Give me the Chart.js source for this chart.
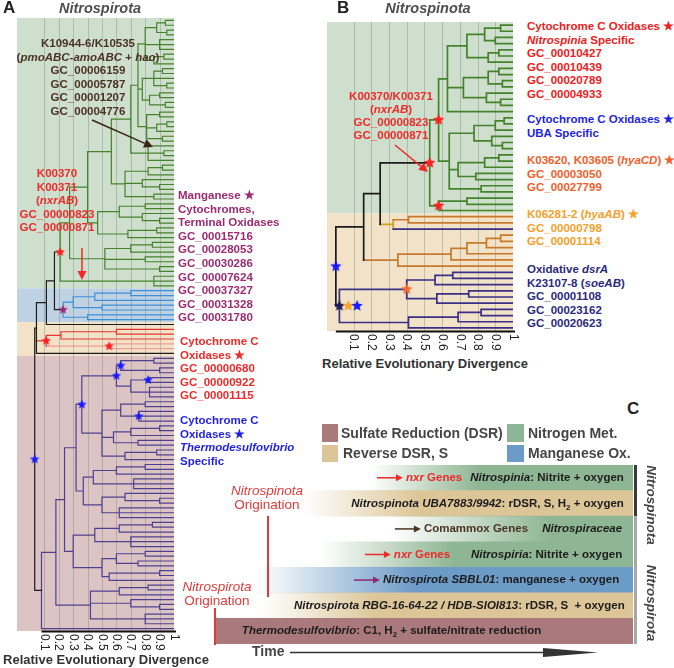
<!DOCTYPE html>
<html>
<head>
<meta charset="utf-8">
<script src="https://cdn.jsdelivr.net/npm/chart.js@4.4.1/dist/chart.umd.min.js"></script>
<style>
body{margin:0;background:#fff;width:674px;height:668px;overflow:hidden;position:relative;font-family:"Liberation Sans",Arial,sans-serif}
canvas{position:absolute}
.lab{position:absolute;font:bold 11.5px/13.6px "Liberation Sans",Arial,sans-serif;white-space:nowrap}
.c{text-align:center}
.ttl{position:absolute;font:bold 17px/18px "Liberation Sans",Arial,sans-serif;color:#222}
.hd{position:absolute;font:italic bold 14.5px/18px "Liberation Sans",Arial,sans-serif;color:#4f4f4f;text-align:center;width:120px}
.ax{position:absolute;font:bold 13px/16px "Liberation Sans",Arial,sans-serif;color:#333;text-align:center;width:212px}
.sw{position:absolute}
.lg{position:absolute;font:bold 14px/18px "Liberation Sans",Arial,sans-serif;color:#454545;white-space:nowrap}
.org{position:absolute;font:13.5px/14px "Liberation Sans",Arial,sans-serif;color:#e03a3a;text-align:center;width:120px}
.vr{position:absolute;font:italic bold 13.5px/18px "Liberation Sans",Arial,sans-serif;color:#444;width:80px;text-align:center;transform:rotate(90deg)}
</style>
</head>
<body>
<canvas id="treeA" style="left:0;top:0" width="180" height="652"></canvas>
<canvas id="treeB" style="left:320px;top:15px" width="200" height="338"></canvas>
<canvas id="timeline" style="left:210px;top:460px" width="440" height="208"></canvas>

<!-- panel titles -->
<div class="ttl" style="left:3px;top:-1px">A</div>
<div class="hd" style="left:40px;top:-1px">Nitrospirota</div>
<div class="ttl" style="left:337px;top:-1px">B</div>
<div class="hd" style="left:368px;top:-1px">Nitrospinota</div>
<div class="ttl" style="left:627px;top:400px">C</div>
<div class="ax" style="left:0;top:652px">Relative Evolutionary Divergence</div>
<div class="ax" style="left:319px;top:356px">Relative Evolutionary Divergence</div>

<!-- panel A labels -->
<div class="lab c" style="left:0;width:176px;top:37px;color:#4a3225">K10944-6/K10535<br>(<i>pmoABC-amoABC</i> + <i>hao</i>)<br>GC_00006159<br>GC_00005787<br>GC_00001207<br>GC_00004776</div>
<div class="lab c" style="left:0;width:114px;top:167px;color:#ee2a2a">K00370<br>K00371<br>(<i>nxrAB</i>)<br>GC_00000823<br>GC_00000871</div>
<div class="lab" style="left:178px;top:189px;color:#9c2b72">Manganese ★<br>Cytochromes,<br>Terminal Oxidases<br>GC_00015716<br>GC_00028053<br>GC_00030286<br>GC_00007624<br>GC_00037327<br>GC_00031328<br>GC_00031780</div>
<div class="lab" style="left:180px;top:335px;color:#ee2a2a">Cytochrome C<br>Oxidases ★<br>GC_00000680<br>GC_00000922<br>GC_00001115</div>
<div class="lab" style="left:180px;top:414px;color:#1f1fe8">Cytochrome C<br>Oxidases ★<br><i>Thermodesulfovibrio</i><br>Specific</div>

<!-- panel B labels -->
<div class="lab c" style="left:331px;width:120px;top:90px;line-height:13px;color:#ee2a2a">K00370/K00371<br>(<i>nxrAB</i>)<br>GC_00000823<br>GC_00000871</div>
<div class="lab" style="left:527px;top:20px;color:#ee2020">Cytochrome C Oxidases ★<br><i>Nitrospinia</i> Specific<br>GC_00010427<br>GC_00010439<br>GC_00020789<br>GC_00004933</div>
<div class="lab" style="left:527px;top:113px;color:#1f1fe8">Cytochrome C Oxidases ★<br>UBA Specific</div>
<div class="lab" style="left:527px;top:154px;color:#f0602a">K03620, K03605 (<i>hyaCD</i>) ★<br>GC_00003050<br>GC_00027799</div>
<div class="lab" style="left:527px;top:208px;color:#f5a02a">K06281-2 (<i>hyaAB</i>) ★<br>GC_00000798<br>GC_00001114</div>
<div class="lab" style="left:527px;top:263px;color:#2b2a7a">Oxidative <i>dsrA</i><br>K23107-8 (<i>soeAB</i>)<br>GC_00001108<br>GC_00023162<br>GC_00020623</div>

<!-- panel C legend and notes -->
<div class="sw" style="left:322px;top:424px;width:16px;height:18px;background:#a9797c"></div>
<div class="sw" style="left:322px;top:445px;width:16px;height:17px;background:#dcc597"></div>
<div class="sw" style="left:507px;top:424px;width:17px;height:18px;background:#8fb694"></div>
<div class="sw" style="left:507px;top:445px;width:17px;height:17px;background:#6d9bc7"></div>
<div class="lg" style="left:341px;top:424px">Sulfate Reduction (DSR)</div>
<div class="lg" style="left:343px;top:444px">Reverse DSR, S</div>
<div class="lg" style="left:528px;top:424px">Nitrogen Met.</div>
<div class="lg" style="left:528px;top:444px">Manganese Ox.</div>
<div class="org" style="left:207px;top:484px"><i>Nitrospinota</i><br>Origination</div>
<div class="org" style="left:157px;top:580px"><i>Nitrospirota</i><br>Origination</div>
<div class="sw" style="left:267px;top:516px;width:1.5px;height:81px;background:#e03a3a"></div>
<div class="sw" style="left:214px;top:608px;width:1.5px;height:37px;background:#e03a3a"></div>
<div class="vr" style="left:611px;top:496px">Nitrospinota</div>
<div class="vr" style="left:611px;top:594px">Nitrospirota</div>

<script>
// colour keys used in the trees
var lineCol = {k:'#1b1b1b', g:'#44832b', b:'#3d8fd9', r:'#e4362e', l:'#f19c96', p:'#4e4090', o:'#c77a2c', y:'#d0a21c', n:'#3a2f86'};
var starCol = {r:'#ff1f1f', m:'#a0287a', b:'#1a1aff', o:'#f26a32', y:'#f7a428', n:'#1f1b5c'};
var bandCol = {G:'#cfdfcd', B:'#bfd2e4', T:'#f2e3c8', P:'#dcc4c4'};

// trees: [RED, 'stem>body|band*stars', children...], a bare number is a tip
var greenA = [0.21,'k>g|G*r',
  [0.275,
    [0.40,
      [0.565,
        [0.70,
          [0.75,
            [0.80,[0.88,[0.94,1,1],[0.95,1,1]],[0.9,1,1,1],[0.86,[0.93,1,1],1]],
            [0.78,[0.86,[0.92,1,1],1,[0.95,1,1]],[0.83,[0.9,1,1],[0.94,1,1]]],
            [0.81,[0.9,1,1],[0.88,[0.95,1,1],1],[0.92,1,1]]
          ],
          [0.82,1,[0.93,1,1],1]
        ],
        [0.66,[0.82,[0.92,1,1],1],[0.78,1,[0.9,1,1]],[0.86,1,1]]
      ],
      [0.47,[0.62,[0.8,1,1],[0.78,1,[0.9,1,1]]],[0.68,[0.88,1,1],1]]
    ],
    [0.52,[0.7,[0.85,1,1],1],[0.8,1,1],[0.9,1,1]]
  ],
  [0.86,1,1,1]
];
var blueA = [0.23,'k>b|B*m', [0.30,[0.45,[0.7,1,1],1],[0.5,1,1]], [0.40,1,1]];
var purpleA = [0.08,'k>p|P',
  [0.18,
    [0.24,
      [0.32,
        [0.36,'*b',
          [0.6,'*b',[0.63,'*b',[0.86,1,1],[0.9,1,1]],[0.7,[0.82,'*b',1,1],[0.83,1,1,1]]],
          [0.5,[0.63,[0.8,1,1],[0.755,'*b',1,1,1]],[0.58,[0.7,[0.9,1,1],1],[0.75,1,1]],[0.66,[0.88,1,1],1]]
        ],
        [0.37,[0.44,[0.6,[0.8,1,1],1],[0.72,1,1,1]],[0.5,[0.66,1,[0.9,1,1]],[0.62,1,1,1]]]
      ],
      [0.3,[0.45,[0.62,[0.85,1,1],1],[0.7,1,1,1]],[0.5,[0.6,[0.8,1,1],[0.75,1,1]],[0.55,[0.9,1,1],1]]]
    ],
    [0.42,[0.62,[0.82,1,1],1],[0.7,1,[0.9,1,1]],[0.8,1,1,1]]
  ],
  1
];
var treeA = [0.033,'k*b',
  [0.045,'k|T',
    [0.114,'k',
      [0.17,'k', greenA, blueA],
      [1,'k']
    ],
    [0.113,'r*r',[0.215,[0.6,1,1],1],[0.55,'l*r',1,1]],
    [1,'k']
  ],
  purpleA
];

var treeB = [0,'k|T*b',
  [0.157,'k',
    [0.25,'k',
      [0.53,'k>g|G*r',
        [0.58,'*r',
          [0.63,
            [0.74,[0.84,[0.93,1,1],[0.9,1,1]],[0.86,[0.92,1,1],1]],
            [0.72,[0.86,[0.92,1,1],[0.94,1,1]],[0.85,1,[0.93,1,1]]],
            1
          ],
          [0.64,
            [0.78,[0.9,[0.95,1,1],1],[0.88,1,[0.94,1,1]]],
            [0.69,[0.84,[0.92,1,1],1],[0.79,1,1]],
            [0.82,1,1]
          ]
        ],
        [0.58,'*r',[0.74,1,1],1]
      ],
      [0.324,'y',[0.41,'o',1,1],[1,'n']]
    ],
    [0.35,'o',[0.65,[0.74,[0.85,[0.93,1,1],1],1],1],1]
  ],
  [0.02,'n*nyb',
    [0.40,'*o',[0.56,[0.66,1,1],1],[0.57,[0.75,1,1],1]],
    [0.41,[0.69,[0.82,1,1],1],1]
  ]
];

var redTicks = [0.1,0.2,0.3,0.4,0.5,0.6,0.7,0.8,0.9,1];

// timeline (panel C)
var cRows = ['Nitrospinia','Nitrospinota UBA7883/9942','Nitrospiraceae','Nitrospiria','Nitrospirota SBBL01','Nitrospirota RBG-16-64-22 / HDB-SIOI813','Thermodesulfovibrio'];
var cStart = [37, 21, 42, 25, 10, 11, 0];
var cSolid = [63, 49, 80, 57, 48, 39, 0];
var cEnd = [100, 100, 100, 100, 100, 100, 100];
var cTrait = ['N','T','N','N','M','T','S'];
var traitCol = {S:'#a9797c', T:'#dcc597', N:'#8fb694', M:'#6d9bc7'};

// text inside the bars: [text, colour, italic, subscript]; null text = arrow
var textCol = {r:'#ee2a2a', k:'#1c1c1c', w:'#4a3322', m:'#8e2a6e'};
var cText = [
  [{t:38.6,a:'l',s:[[null,'r'],['nxr','r',1],[' Genes','r']]}, {t:97.8,a:'r',s:[['Nitrospinia','k',1],[': Nitrite + oxygen','k']]}],
  [{t:97.8,a:'r',s:[['Nitrospinota UBA7883/9942','k',1],[': rDSR, S, H','k'],['2','k',0,1],[' + oxygen','k']]}],
  [{t:42.9,a:'l',s:[[null,'w'],['Comammox Genes','w']]}, {t:97.4,a:'r',s:[['Nitrospiraceae','k',1]]}],
  [{t:35.7,a:'l',s:[[null,'r'],['nxr','r',1],[' Genes','r']]}, {t:97.4,a:'r',s:[['Nitrospiria','k',1],[': Nitrite + oxygen','k']]}],
  [{t:33.1,a:'l',s:[[null,'m'],['Nitrospirota SBBL01','k',1],[': manganese + oxygen','k']]}],
  [{t:98,a:'r',s:[['Nitrospirota RBG-16-64-22 / HDB-SIOI813','k',1],[': rDSR, S  + oxygen','k']]}],
  [{t:6.2,a:'l',s:[['Thermodesulfovibrio','k',1],[': C1, H','k'],['2','k',0,1],[' + sulfate/nitrate reduction','k']]}]
];

function layoutTree(tree) {
  var segs = {}, stars = [], leafBand = [], n = 0;
  function seg(c, x1, y1, x2, y2) {
    (segs[c] = segs[c] || []).push({x:x1,y:y1},{x:x2,y:y2},{x:NaN,y:NaN});
  }
  function walk(node, px, pc, pb) {
    var x, spec = '', kids = [];
    if (Array.isArray(node)) {
      x = node[0];
      kids = node.slice(1);
      if (typeof kids[0] === 'string') spec = kids.shift();
    } else x = node;
    var parts = spec.split('*'), st = parts[1] || '';
    var cb = parts[0].split('|'), cols = cb[0], band = cb[1] || pb;
    var stem = pc, body = pc;
    if (cols) {
      if (cols.indexOf('>') >= 0) { stem = cols.split('>')[0]; body = cols.split('>')[1]; }
      else { stem = cols; body = cols; }
    }
    var y;
    if (!kids.length) { y = n++; leafBand.push(band); }
    else {
      var ys = kids.map(function(k) { return walk(k, x, body, band); });
      y = (ys[0] + ys[ys.length - 1]) / 2;
      seg(body, x, ys[0], x, ys[ys.length - 1]);
    }
    if (px !== null) seg(stem, px, y, x, y);
    st.split('').forEach(function(c, i) { stars.push({c:c, x:x + i * 0.05, y:y}); });
    return y;
  }
  walk(tree, null, 'k', 'T');
  var bands = [];
  leafBand.forEach(function(b, i) {
    var last = bands[bands.length - 1];
    if (last && last.b === b) last.to = i; else bands.push({b:b, from:i, to:i});
  });
  return {segs:segs, stars:stars, bands:bands, n:n};
}

function starImg(color, r) {
  var c = document.createElement('canvas');
  c.width = c.height = 2 * r + 2;
  var g = c.getContext('2d');
  g.fillStyle = color;
  g.beginPath();
  for (var i = 0; i < 10; i++) {
    var a = -Math.PI / 2 + i * Math.PI / 5, rr = i % 2 ? r * 0.45 : r;
    g.lineTo(r + 1 + rr * Math.cos(a), r + 1 + rr * Math.sin(a));
  }
  g.closePath();
  g.fill();
  return c;
}

function arrow(ctx, x1, y1, x2, y2, color, head) {
  var a = Math.atan2(y2 - y1, x2 - x1);
  ctx.save();
  ctx.strokeStyle = color; ctx.fillStyle = color; ctx.lineWidth = 1.5;
  ctx.beginPath(); ctx.moveTo(x1, y1);
  ctx.lineTo(x2 - head * Math.cos(a), y2 - head * Math.sin(a)); ctx.stroke();
  ctx.beginPath(); ctx.moveTo(x2, y2);
  ctx.lineTo(x2 - head * Math.cos(a) + head * 0.5 * Math.sin(a), y2 - head * Math.sin(a) - head * 0.5 * Math.cos(a));
  ctx.lineTo(x2 - head * Math.cos(a) - head * 0.5 * Math.sin(a), y2 - head * Math.sin(a) + head * 0.5 * Math.cos(a));
  ctx.closePath(); ctx.fill();
  ctx.restore();
}

function treeChart(id, tree, opt) {
  var t = layoutTree(tree);
  var datasets = [];
  Object.keys(starCol).forEach(function(k) {
    var pts = t.stars.filter(function(s) { return s.c === k; });
    if (pts.length) datasets.push({
      data: pts.map(function(s) { return {x:s.x, y:s.y}; }),
      pointStyle: starImg(starCol[k], opt.star), pointRadius: opt.star, pointHoverRadius: opt.star
    });
  });
  Object.keys(t.segs).forEach(function(k) {
    datasets.push({data: t.segs[k], showLine: true, borderColor: lineCol[k], borderWidth: opt.lw,
      pointRadius: 0, borderCapStyle: 'square'});
  });
  var deco = {
    id: 'deco',
    beforeDatasetsDraw: function(chart) {
      var ctx = chart.ctx, a = chart.chartArea, xs = chart.scales.x, ys = chart.scales.y;
      t.bands.forEach(function(b) {
        var y1 = ys.getPixelForValue(b.from - 0.5), y2 = ys.getPixelForValue(b.to + 0.5);
        ctx.fillStyle = bandCol[b.b];
        ctx.fillRect(a.left, y1, a.right - a.left, y2 - y1);
      });
      ctx.strokeStyle = 'rgba(110,120,110,0.35)'; ctx.lineWidth = 1;
      redTicks.slice(0, 9).forEach(function(v) {
        var x = Math.round(xs.getPixelForValue(v)) + 0.5;
        ctx.beginPath(); ctx.moveTo(x, a.top); ctx.lineTo(x, a.bottom); ctx.stroke();
      });
    },
    afterDraw: function(chart) {
      var ctx = chart.ctx, a = chart.chartArea, xs = chart.scales.x;
      ctx.save();
      ctx.strokeStyle = '#111'; ctx.lineWidth = 2;
      ctx.beginPath(); ctx.moveTo(xs.getPixelForValue(opt.axisFrom), a.bottom + 0.5); ctx.lineTo(a.right + 2, a.bottom + 0.5); ctx.stroke();
      ctx.fillStyle = '#222'; ctx.font = '12px "Liberation Sans", Arial, sans-serif';
      ctx.textAlign = 'left'; ctx.textBaseline = 'middle';
      redTicks.forEach(function(v) {
        ctx.save();
        ctx.translate(xs.getPixelForValue(v), a.bottom + 3);
        ctx.rotate(Math.PI / 2);
        ctx.fillText(v === 1 ? '1' : v.toFixed(1), 0, 0);
        ctx.restore();
      });
      ctx.restore();
      if (opt.after) opt.after(ctx, chart);
    }
  };
  return new Chart(document.getElementById(id), {
    type: 'scatter',
    data: {datasets: datasets},
    options: {
      responsive: false, animation: false, events: [],
      layout: {padding: opt.pad},
      plugins: {legend: {display: false}, tooltip: {enabled: false}},
      scales: {
        x: {type: 'linear', display: false, min: opt.xmin, max: 1},
        y: {type: 'linear', display: false, reverse: true, min: -0.5, max: t.n - 0.5}
      }
    },
    plugins: [deco]
  });
}

treeChart('treeA', treeA, {
  xmin: -0.09, lw: 1.2, star: 5, axisFrom: 0.08,
  pad: {left: 17, top: 18, right: 6, bottom: 21},
  after: function(ctx) {
    arrow(ctx, 92, 120, 153, 147, '#3a2418', 9);
    arrow(ctx, 82, 248, 82, 280, '#ee2a2a', 9);
  }
});

treeChart('treeB', treeB, {
  xmin: -0.05, lw: 1.7, star: 6, axisFrom: 0,
  pad: {left: 6, top: 6, right: 4, bottom: 22},
  after: function(ctx) {
    arrow(ctx, 75, 130, 108, 157, '#ee2a2a', 9);
  }
});

function hexA(hex, al) {
  var v = parseInt(hex.slice(1), 16);
  return 'rgba(' + (v >> 16) + ',' + ((v >> 8) & 255) + ',' + (v & 255) + ',' + al + ')';
}

function segFont(s) {
  return (s[2] ? 'italic ' : '') + 'bold ' + (s[3] ? '8px' : '11.5px') + ' "Liberation Sans", Arial, sans-serif';
}

var timeDeco = {
  id: 'timeDeco',
  afterDatasetsDraw: function(chart) {
    var ctx = chart.ctx, a = chart.chartArea, xs = chart.scales.x, ys = chart.scales.y;
    var h = (a.bottom - a.top) / cRows.length;
    ctx.save();
    ctx.textBaseline = 'middle'; ctx.textAlign = 'left';
    cText.forEach(function(runs, i) {
      var y = ys.getPixelForValue(i);
      runs.forEach(function(run) {
        var w = 0;
        run.s.forEach(function(s) {
          if (s[0] === null) { w += 29; return; }
          ctx.font = segFont(s); w += ctx.measureText(s[0]).width;
        });
        var x = xs.getPixelForValue(run.t);
        if (run.a === 'r') x -= w;
        run.s.forEach(function(s) {
          if (s[0] === null) { arrow(ctx, x, y, x + 26, y, textCol[s[1]], 7); x += 29; return; }
          ctx.font = segFont(s); ctx.fillStyle = textCol[s[1]];
          ctx.fillText(s[0], x, s[3] ? y + 4 : y);
          x += ctx.measureText(s[0]).width;
        });
      });
    });
    // phylum brackets on the right
    ctx.fillStyle = '#3a3a3a';
    ctx.fillRect(a.right + 1, a.top, 3, 2 * h);
    ctx.fillStyle = '#a8a8a8';
    ctx.fillRect(a.right + 1, a.top + 2 * h, 3, a.bottom - a.top - 2 * h);
    // time arrow
    var ty = a.bottom + 8;
    ctx.fillStyle = '#444'; ctx.font = 'bold 14px "Liberation Sans", Arial, sans-serif';
    ctx.fillText('Time', a.left + 36, ty);
    ctx.strokeStyle = '#333'; ctx.lineWidth = 1.5;
    ctx.beginPath(); ctx.moveTo(a.left + 74, ty + 0.5); ctx.lineTo(a.left + 330, ty + 0.5); ctx.stroke();
    ctx.fillStyle = '#333';
    ctx.beginPath(); ctx.moveTo(a.left + 327, ty - 4); ctx.lineTo(a.left + 382, ty + 0.5); ctx.lineTo(a.left + 327, ty + 5); ctx.closePath(); ctx.fill();
    ctx.restore();
  }
};

new Chart(document.getElementById('timeline'), {
  type: 'bar',
  data: {
    labels: cRows,
    datasets: [{
      data: cStart.map(function(s, i) { return [s, cEnd[i]]; }),
      backgroundColor: function(c) {
        var chart = c.chart, i = c.dataIndex;
        if (!chart.chartArea || i === undefined) return '#ccc';
        var col = traitCol[cTrait[i]];
        if (cSolid[i] <= cStart[i]) return col;
        var xs = chart.scales.x;
        var g = chart.ctx.createLinearGradient(xs.getPixelForValue(cStart[i]), 0, xs.getPixelForValue(cSolid[i]), 0);
        g.addColorStop(0, hexA(col, 0));
        g.addColorStop(1, col);
        return g;
      },
      borderWidth: 0,
      categoryPercentage: 1,
      barPercentage: 1
    }]
  },
  options: {
    indexAxis: 'y',
    responsive: false, animation: false, events: [],
    layout: {padding: {left: 6, top: 5, right: 17, bottom: 24}},
    plugins: {legend: {display: false}, tooltip: {enabled: false}},
    scales: {
      x: {type: 'linear', display: false, min: 0, max: 100},
      y: {type: 'category', display: false}
    }
  },
  plugins: [timeDeco]
});
</script>
</body>
</html>
